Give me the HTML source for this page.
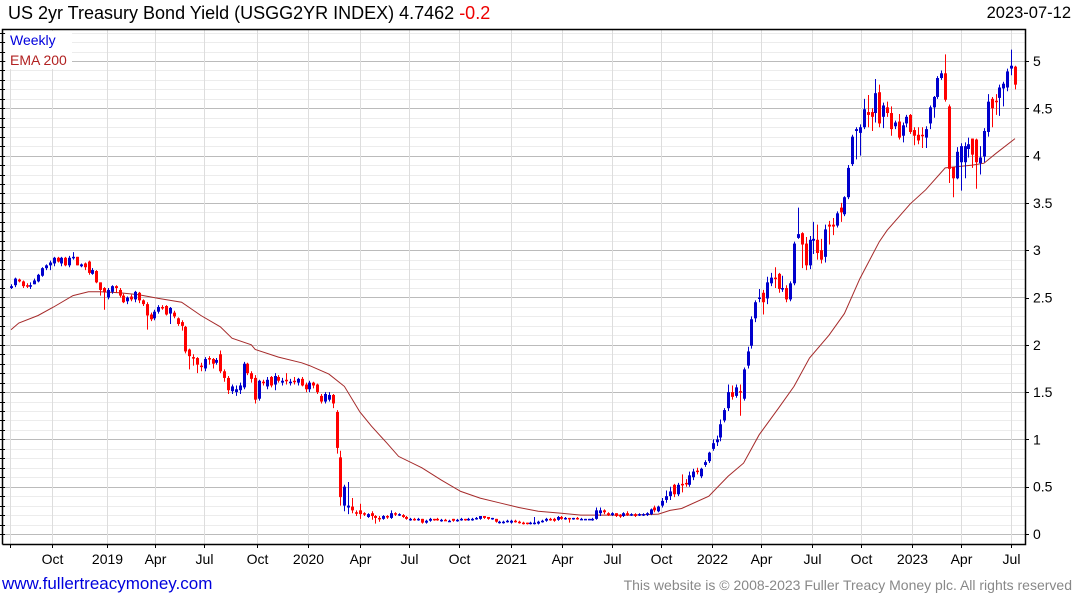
<!DOCTYPE html>
<html><head><meta charset="utf-8"><style>
body{margin:0;width:1075px;height:600px;background:#fff;font-family:"Liberation Sans",sans-serif;overflow:hidden;position:relative}
.t{position:absolute;white-space:nowrap}
</style></head><body>
<div class="t" style="left:8px;top:3px;font-size:18px;color:#000">US 2yr Treasury Bond Yield (USGG2YR INDEX) 4.7462 <span style="color:#e00">-0.2</span></div>
<div class="t" style="right:4px;top:4px;font-size:16.5px;color:#000">2023-07-12</div>
<svg id="chart" width="1075" height="600" style="position:absolute;left:0;top:0" xmlns="http://www.w3.org/2000/svg"></svg>
<div class="t" style="left:2px;top:574px;font-size:17px;color:#0000dd">www.fullertreacymoney.com</div>
<div class="t" style="right:3px;top:577px;font-size:14px;color:#888">This website is © 2008-2023 Fuller Treacy Money plc. All rights reserved</div>
<script>
const opens=[2.60,2.63,2.69,2.67,2.63,2.62,2.64,2.67,2.73,2.81,2.84,2.86,2.92,2.86,2.92,2.84,2.92,2.93,2.83,2.86,2.88,2.75,2.78,2.66,2.60,2.50,
2.56,2.62,2.58,2.52,2.46,2.51,2.48,2.55,2.47,2.43,2.32,2.28,2.35,2.40,2.41,2.33,2.34,2.28,2.24,2.19,1.95,1.87,1.86,1.78,1.75,1.86,1.85,1.81,1.90,1.72,1.65,1.51,1.50,1.52,1.55,1.80,1.70,1.65,1.43,1.61,1.56,1.66,1.58,1.66,1.60,1.63,1.60,1.62,1.60,1.64,1.58,1.53,1.60,1.58,
1.46,1.40,1.42,1.47,1.29,0.81,0.30,0.28,0.29,0.23,0.25,0.22,0.18,0.22,0.19,0.17,0.16,0.19,0.17,0.22,0.20,0.20,0.18,0.15,0.16,0.15,0.16,0.12,0.14,0.16,0.16,0.14,0.15,0.14,0.16,0.14,0.15,0.16,0.15,0.15,0.16,0.16,0.19,0.18,0.16,0.16,0.12,0.12,0.13,0.12,0.14,0.13,0.12,0.12,0.11,0.11,0.11,0.13,0.14,0.16,0.16,0.15,0.18,0.16,0.17,0.16,0.17,0.16,0.15,0.15,0.15,0.16,0.22,0.25,0.22,0.20,0.22,0.20,0.19,0.22,0.20,0.21,0.20,0.20,0.20,0.21,0.28,0.24,0.30,0.36,0.40,0.52,0.42,0.53,0.54,0.52,0.60,0.67,0.61,0.73,0.77,0.90,0.97,1.02,1.20,1.33,1.50,1.46,1.51,1.43,1.78,1.99,2.28,2.49,2.55,2.49,2.65,2.71,2.75,2.60,2.60,2.48,2.65,3.13,3.18,3.07,2.84,3.10,3.11,3.00,2.93,3.27,3.27,3.26,3.45,3.38,3.56,3.91,
4.26,4.24,4.30,4.46,4.46,4.45,4.67,4.41,4.51,4.45,4.31,4.36,4.21,4.34,4.43,4.27,4.22,4.22,4.19,4.34,4.51,4.62,4.82,4.87,4.52,3.88,3.76,3.93,3.93,4.07,4.18,4.17,3.92,3.99,4.25,4.60,4.58,4.61,4.71,4.72,4.92,4.94];
const closes=[2.62,2.70,2.67,2.62,2.62,2.63,2.68,2.74,2.81,2.84,2.87,2.92,2.88,2.92,2.84,2.92,2.93,2.84,2.85,2.82,2.76,2.79,2.66,2.58,2.56,2.58,
2.62,2.60,2.52,2.45,2.50,2.48,2.56,2.47,2.43,2.31,2.27,2.35,2.40,2.39,2.32,2.39,2.30,2.22,2.20,1.93,1.88,1.86,1.79,1.77,1.85,1.85,1.80,1.84,1.72,1.65,1.52,1.56,1.53,1.57,1.80,1.70,1.64,1.42,1.62,1.60,1.63,1.57,1.67,1.62,1.62,1.62,1.61,1.61,1.64,1.57,1.53,1.60,1.57,1.50,
1.40,1.48,1.47,1.38,0.91,0.39,0.50,0.30,0.25,0.22,0.21,0.21,0.21,0.19,0.17,0.16,0.19,0.18,0.22,0.21,0.21,0.18,0.16,0.16,0.15,0.16,0.12,0.14,0.16,0.15,0.15,0.15,0.14,0.14,0.14,0.15,0.16,0.15,0.16,0.16,0.17,0.19,0.17,0.16,0.17,0.13,0.13,0.13,0.14,0.14,0.13,0.12,0.11,0.11,0.12,0.12,0.13,0.14,0.16,0.15,0.14,0.18,0.16,0.17,0.16,0.17,0.16,0.16,0.16,0.16,0.16,0.25,0.25,0.23,0.20,0.22,0.19,0.19,0.22,0.20,0.21,0.19,0.21,0.21,0.22,0.26,0.25,0.29,0.35,0.40,0.45,0.42,0.52,0.52,0.53,0.62,0.66,0.66,0.69,0.76,0.86,0.96,1.00,1.16,1.31,1.50,1.45,1.55,1.50,1.74,1.93,2.27,2.45,2.50,2.45,2.66,2.71,2.70,2.59,2.60,2.48,2.65,3.07,3.17,3.06,2.84,3.11,3.12,2.97,2.90,3.22,3.25,3.25,3.39,3.40,3.56,3.87,4.20,
4.28,4.30,4.49,4.43,4.41,4.66,4.34,4.53,4.45,4.28,4.35,4.19,4.32,4.41,4.25,4.21,4.16,4.21,4.28,4.51,4.62,4.82,4.87,4.59,3.86,3.76,4.04,4.10,4.10,4.12,4.01,3.93,3.98,4.26,4.57,4.50,4.57,4.72,4.76,4.89,4.95,4.75];
const highs=[2.64,2.71,2.70,2.68,2.65,2.66,2.70,2.75,2.82,2.85,2.89,2.93,2.93,2.93,2.93,2.94,2.98,2.93,2.86,2.87,2.89,2.81,2.79,2.66,2.61,2.60,
2.63,2.63,2.60,2.54,2.51,2.53,2.57,2.56,2.48,2.45,2.34,2.37,2.42,2.42,2.42,2.40,2.36,2.29,2.26,2.20,1.96,1.90,1.87,1.81,1.87,1.88,1.86,1.86,1.94,1.74,1.67,1.58,1.57,1.60,1.82,1.81,1.72,1.68,1.63,1.63,1.66,1.67,1.70,1.68,1.65,1.70,1.64,1.66,1.65,1.66,1.60,1.62,1.61,1.59,
1.48,1.50,1.50,1.48,1.31,0.88,0.52,0.55,0.38,0.25,0.32,0.23,0.22,0.24,0.20,0.19,0.20,0.20,0.25,0.23,0.22,0.21,0.19,0.17,0.17,0.17,0.16,0.15,0.17,0.16,0.17,0.16,0.16,0.15,0.16,0.16,0.17,0.16,0.17,0.17,0.18,0.19,0.19,0.18,0.17,0.16,0.14,0.14,0.15,0.15,0.15,0.14,0.13,0.12,0.13,0.18,0.14,0.15,0.17,0.17,0.17,0.19,0.19,0.18,0.17,0.17,0.18,0.17,0.16,0.16,0.17,0.28,0.28,0.26,0.23,0.23,0.22,0.21,0.23,0.24,0.22,0.22,0.22,0.22,0.23,0.27,0.30,0.30,0.38,0.46,0.50,0.53,0.54,0.63,0.58,0.66,0.69,0.70,0.70,0.78,0.87,1.00,1.04,1.21,1.33,1.58,1.57,1.58,1.58,1.76,1.98,2.30,2.47,2.59,2.58,2.72,2.76,2.82,2.76,2.73,2.63,2.67,3.09,3.45,3.19,3.14,3.15,3.30,3.27,3.12,3.27,3.31,3.34,3.41,3.50,3.57,3.90,4.22,
4.30,4.33,4.60,4.64,4.50,4.81,4.75,4.56,4.57,4.52,4.37,4.44,4.35,4.43,4.44,4.30,4.30,4.30,4.31,4.53,4.63,4.84,4.90,5.07,4.54,3.88,4.09,4.13,4.14,4.19,4.18,4.18,4.10,4.29,4.65,4.62,4.65,4.75,4.78,4.92,5.12,4.95];
const lows=[2.59,2.61,2.66,2.60,2.60,2.59,2.64,2.66,2.72,2.79,2.79,2.83,2.87,2.83,2.83,2.82,2.90,2.84,2.82,2.79,2.74,2.74,2.65,2.52,2.37,2.48,
2.54,2.55,2.50,2.44,2.43,2.46,2.45,2.44,2.41,2.16,2.25,2.26,2.33,2.37,2.31,2.22,2.28,2.20,2.15,1.91,1.74,1.78,1.70,1.72,1.72,1.79,1.75,1.79,1.70,1.61,1.48,1.48,1.46,1.48,1.53,1.68,1.60,1.38,1.41,1.57,1.53,1.55,1.52,1.60,1.57,1.58,1.57,1.58,1.57,1.56,1.50,1.50,1.54,1.48,
1.38,1.38,1.40,1.33,0.85,0.30,0.24,0.21,0.22,0.19,0.16,0.19,0.17,0.15,0.11,0.13,0.15,0.16,0.16,0.19,0.19,0.17,0.15,0.14,0.14,0.14,0.11,0.11,0.13,0.14,0.14,0.13,0.14,0.13,0.13,0.13,0.14,0.14,0.14,0.14,0.15,0.15,0.16,0.15,0.15,0.12,0.11,0.11,0.12,0.11,0.12,0.11,0.10,0.10,0.10,0.10,0.10,0.12,0.13,0.14,0.13,0.14,0.15,0.15,0.12,0.15,0.15,0.15,0.15,0.15,0.14,0.15,0.19,0.21,0.19,0.19,0.18,0.17,0.18,0.19,0.19,0.18,0.19,0.19,0.19,0.20,0.23,0.23,0.28,0.33,0.36,0.39,0.40,0.44,0.50,0.50,0.57,0.63,0.59,0.71,0.75,0.88,0.93,0.98,1.18,1.30,1.42,1.44,1.25,1.41,1.75,1.96,2.24,2.45,2.32,2.43,2.62,2.60,2.55,2.56,2.45,2.46,2.63,3.12,2.81,2.79,2.80,2.96,2.90,2.86,2.87,3.06,3.16,3.24,3.30,3.36,3.54,3.89,
3.96,4.00,4.28,4.30,4.26,4.35,4.30,4.29,4.41,4.21,4.28,4.17,4.14,4.30,4.23,4.11,4.12,4.08,4.08,4.28,4.40,4.60,4.80,4.57,3.71,3.56,3.75,3.63,3.76,3.98,3.87,3.65,3.80,3.93,4.20,4.30,4.43,4.42,4.52,4.68,4.85,4.70];
const emaWeeks=[0,2,7,11,16,20,23,28,33,38,44,49,54,57,62,63,69,75,77,82,86,90,93,97,100,106,111,116,121,126,131,136,142,147,152,160,167,170,173,180,185,189,193,198,202,206,211,215,219,224,226,232,236,241,248,251,254,259];
const emaValues=[2.16,2.23,2.31,2.40,2.52,2.56,2.56,2.55,2.53,2.49,2.45,2.31,2.19,2.07,2.00,1.95,1.87,1.81,1.78,1.69,1.56,1.29,1.14,0.96,0.82,0.70,0.57,0.45,0.38,0.33,0.28,0.24,0.22,0.20,0.20,0.20,0.21,0.25,0.27,0.40,0.61,0.75,1.05,1.33,1.56,1.86,2.10,2.33,2.70,3.09,3.21,3.49,3.64,3.87,3.90,3.92,4.02,4.18];
const yTicks=[0,0.5,1,1.5,2,2.5,3,3.5,4,4.5,5];
const yTickLabels=["0","0.5","1","1.5","2","2.5","3","3.5","4","4.5","5"];
const xTickWeeks=[-0.3,10.6,24.8,37.2,49.8,63.5,76.6,90.0,102.7,115.6,129.0,142.2,155.1,167.7,180.9,193.5,206.7,219.3,232.4,245.1,258.0];
const xTickLabels=["","Oct","2019","Apr","Jul","Oct","2020","Apr","Jul","Oct","2021","Apr","Jul","Oct","2022","Apr","Jul","Oct","2023","Apr","Jul"];

const NS="http://www.w3.org/2000/svg";
const svg=document.getElementById('chart');
const L=2,R=1025,T=29,B=544;
const N=closes.length;
const X0=11,X1=1015;
function xs(i){return X0+i*(X1-X0)/(N-1);}
function ys(v){return 534-v*94.6;}
function mk(tag,attrs){const e=document.createElementNS(NS,tag);for(const k in attrs)e.setAttribute(k,attrs[k]);svg.appendChild(e);return e;}
for(let v=0;v<=5.3;v+=0.1){
  const y=Math.round(ys(v))+0.5; if(y<T||y>B)continue;
  const major=Math.abs(v*2-Math.round(v*2))<1e-6;
  const g=mk('line',{x1:L,x2:R,y1:y,y2:y,stroke:major?'#bbbbbb':'#ececec','stroke-width':1});
  
  
}
xTickWeeks.forEach((w,k)=>{
  const x=Math.round(xs(w))+0.5;
  const g=mk('line',{x1:x,x2:x,y1:T,y2:B,stroke:'#dddddd','stroke-width':1});
  
  
  const tk=mk('line',{x1:x,x2:x,y1:B,y2:B+4,stroke:'#000','stroke-width':1});
  
  
  if(xTickLabels[k]){
    const t=mk('text',{x:x,y:564,'text-anchor':'middle','font-size':14,'font-family':'Liberation Sans, sans-serif',fill:'#000'});
    t.textContent=xTickLabels[k];
    
    
  }
});
yTicks.forEach((v,k)=>{
  const y=ys(v);
  const tk=mk('line',{x1:R,x2:R+4,y1:Math.round(y)+0.5,y2:Math.round(y)+0.5,stroke:'#000'});
  
  
  const t=mk('text',{x:1033,y:y+5,'font-size':14,'font-family':'Liberation Sans, sans-serif',fill:'#000'});
  t.textContent=yTickLabels[k];
  
  
});
for(let v=0;v<=5.3;v+=0.1){const y=Math.round(ys(v))+0.5;if(y<T)continue;
  const tk=mk('line',{x1:L-2,x2:L+3,y1:y,y2:y,stroke:'#000'});
  
  }
const fr=mk('path',{d:`M${L+0.5},${B+0.5}V${T+0.5}H${R+0.5}V${B+0.5}H${L+0.5}`,fill:'none',stroke:'#000','stroke-width':1.5});


let d='';
emaWeeks.forEach((w,k)=>{d+=(k?'L':'M')+xs(w).toFixed(1)+','+ys(emaValues[k]).toFixed(1);});
const ema=mk('path',{d:d,fill:'none',stroke:'#a52a2a','stroke-width':1});


for(let i=0;i<N;i++){
  const up=closes[i]>=opens[i];
  const col=up?'#0000cc':'#ff0000';
  const x=Math.round(xs(i));
  const w=mk('line',{x1:x+0.5,x2:x+0.5,y1:ys(highs[i]),y2:ys(lows[i]),stroke:col,'stroke-width':1});
  
  
  const top=ys(Math.max(opens[i],closes[i])),bot=ys(Math.min(opens[i],closes[i]));
  const b=mk('rect',{x:x-1,y:top,width:3,height:Math.max(1.5,bot-top),fill:col});
  
  
}
const lg=mk('rect',{x:6,y:31,width:66,height:38,fill:'#fff'});


const l1=mk('text',{x:10,y:45,'font-size':14,'font-family':'Liberation Sans, sans-serif',fill:'#0000dd'});
l1.textContent='Weekly';


const l2=mk('text',{x:10,y:65,'font-size':14,'font-family':'Liberation Sans, sans-serif',fill:'#b22222'});
l2.textContent='EMA 200';


</script>
</body></html>
